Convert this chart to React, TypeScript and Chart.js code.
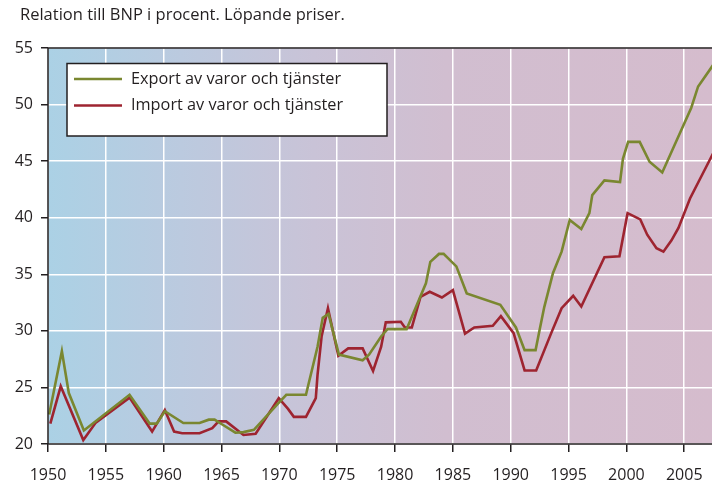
import React, { useEffect, useRef } from "react";
import { Chart, registerables } from "chart.js";

Chart.register(...registerables);

const titleText = "Relation till BNP i procent. Löpande priser.";
const seriesNames = ["Export av varor och tjänster", "Import av varor och tjänster"];
const seriesColors = ["#7a8730", "#9e2430"];

const xTickMin = 1950;
const xTickMax = 2007.4;
const yTickMin = 20;
const yTickMax = 55;
const tickStep = 5;

const exportYears = [
  1950.1, 1951.2, 1951.8, 1953.1, 1957.05, 1958.8, 1959.4, 1960.1, 1961.7, 1963.1,
  1963.9, 1964.4, 1965.1, 1966.2, 1966.9, 1967.8, 1970.0, 1970.6, 1972.3, 1973.3,
  1973.75, 1974.25, 1975.15, 1977.2, 1977.75, 1978.8, 1979.35, 1981.0, 1982.67, 1983.05,
  1983.8, 1984.2, 1985.3, 1986.2, 1989.1, 1990.45, 1991.2, 1992.15, 1992.5, 1992.9,
  1993.65, 1994.4, 1995.1, 1996.1, 1996.8, 1997.05, 1998.1, 1999.45, 1999.7, 2000.15,
  2001.15, 2002.0, 2003.1, 2005.6, 2006.2, 2007.5,
];
const exportValues = [
  22.6, 28.2, 24.5, 21.2, 24.35, 21.8, 21.8, 22.9, 21.85, 21.85,
  22.15, 22.15, 21.7, 21.0, 21.05, 21.25, 23.7, 24.35, 24.35, 28.6,
  31.15, 31.5, 27.9, 27.4, 27.9, 29.5, 30.15, 30.15, 34.2, 36.1,
  36.8, 36.8, 35.7, 33.3, 32.3, 30.3, 28.3, 28.3, 30.1, 32.1,
  35.1, 37.0, 39.8, 39.0, 40.4, 42.0, 43.3, 43.15, 45.2, 46.7,
  46.7, 44.95, 44.0, 49.7, 51.6, 53.5,
];

const importYears = [
  1950.2, 1951.1, 1953.05, 1954.1, 1957.05, 1959.0, 1960.1, 1960.9, 1961.6, 1963.1,
  1964.2, 1964.75, 1965.4, 1966.9, 1967.95, 1969.95, 1970.75, 1971.25, 1972.3, 1973.15,
  1973.3, 1973.65, 1974.2, 1975.1, 1975.95, 1977.2, 1978.1, 1978.8, 1979.2, 1980.5,
  1980.85, 1981.45, 1982.2, 1983.0, 1984.05, 1985.0, 1986.05, 1986.85, 1988.45, 1989.15,
  1990.25, 1991.2, 1992.2, 1993.5, 1994.4, 1995.4, 1996.1, 1998.1, 1999.4, 2000.1,
  2001.2, 2001.8, 2002.6, 2003.2, 2003.9, 2004.5, 2005.5, 2007.5,
];
const importValues = [
  21.8, 25.1, 20.35, 21.85, 24.1, 21.1, 23.0, 21.1, 20.95, 20.95,
  21.4, 22.0, 22.0, 20.8, 20.9, 24.05, 23.1, 22.4, 22.4, 24.05,
  26.1, 29.5, 32.0, 27.8, 28.45, 28.45, 26.45, 28.6, 30.75, 30.8,
  30.3, 30.3, 33.0, 33.45, 32.95, 33.6, 29.75, 30.3, 30.45, 31.3,
  29.8, 26.5, 26.5, 29.8, 32.0, 33.1, 32.15, 36.5, 36.6, 40.4,
  39.85, 38.5, 37.3, 37.0, 38.0, 39.1, 41.7, 45.7,
];

const INK = "#231f20";
const FONT = "'Open Sans', 'Noto Sans', sans-serif";

const toPoints = (xs: number[], ys: number[]) => xs.map((x, i) => ({ x, y: ys[i] }));

const decorPlugin = {
  id: "decor",
  beforeDraw(chart: any) {
    const { ctx, chartArea } = chart;
    const { left, right, top, bottom } = chartArea;
    const g = ctx.createLinearGradient(left, 0, right, 0);
    g.addColorStop(0, "rgb(171,209,229)");
    g.addColorStop(0.2, "rgb(187,202,223)");
    g.addColorStop(0.4, "rgb(201,195,215)");
    g.addColorStop(0.6, "rgb(209,190,208)");
    g.addColorStop(1, "rgb(213,188,205)");
    ctx.save();
    ctx.fillStyle = g;
    ctx.fillRect(left, top, right - left, bottom - top);
    ctx.restore();
  },
  afterDraw(chart: any) {
    const { ctx, chartArea } = chart;
    const { left, right, top, bottom } = chartArea;
    ctx.save();
    ctx.strokeStyle = INK;
    ctx.lineWidth = 1.5;
    ctx.beginPath();
    ctx.moveTo(left, top);
    ctx.lineTo(right + 2, top);
    ctx.moveTo(left, top);
    ctx.lineTo(left, bottom);
    ctx.lineTo(right + 2, bottom);
    ctx.stroke();

    ctx.fillStyle = INK;
    ctx.font = `16.5px ${FONT}`;
    ctx.textBaseline = "middle";
    ctx.textAlign = "left";
    ctx.fillText(titleText, 20, 15);

    const bx = 67, by = 63.5, bw = 320, bh = 72.5;
    ctx.fillStyle = "#ffffff";
    ctx.fillRect(bx, by, bw, bh);
    ctx.strokeStyle = INK;
    ctx.lineWidth = 1.5;
    ctx.strokeRect(bx, by, bw, bh);
    const rows = [79, 105.5];
    rows.forEach((ry, i) => {
      ctx.strokeStyle = seriesColors[i];
      ctx.lineWidth = 2.5;
      ctx.beginPath();
      ctx.moveTo(74, ry);
      ctx.lineTo(122, ry);
      ctx.stroke();
      ctx.fillStyle = INK;
      ctx.font = `16.3px ${FONT}`;
      ctx.textBaseline = "middle";
      ctx.fillText(seriesNames[i], 131, ry);
    });
    ctx.restore();
  },
};

export default function App() {
  const ref = useRef<HTMLCanvasElement | null>(null);

  useEffect(() => {
    if (!ref.current) return;
    const chart = new Chart(ref.current, {
      type: "line",
      data: {
        datasets: [
          {
            label: seriesNames[0],
            data: toPoints(exportYears, exportValues),
            borderColor: seriesColors[0],
            borderWidth: 2.6,
            pointRadius: 0,
            tension: 0,
            fill: false,
          },
          {
            label: seriesNames[1],
            data: toPoints(importYears, importValues),
            borderColor: seriesColors[1],
            borderWidth: 2.6,
            pointRadius: 0,
            tension: 0,
            fill: false,
          },
        ],
      },
      options: {
        animation: false,
        responsive: true,
        maintainAspectRatio: false,
        layout: { padding: { top: 48, right: 0, left: 0, bottom: 0 } },
        plugins: {
          legend: { display: false },
          tooltip: { enabled: false },
          title: { display: false },
        },
        scales: {
          x: {
            type: "linear",
            min: xTickMin,
            max: xTickMax,
            afterFit: (s: any) => {
              s.height = 40;
              s.paddingRight = 0;
              s.paddingLeft = 0;
            },
            ticks: {
              stepSize: tickStep,
              includeBounds: false,
              color: INK,
              font: { family: FONT, size: 16 },
              padding: 14,
              maxRotation: 0,
              callback: (v: any) => String(v),
            },
            grid: {
              color: "#ffffff",
              lineWidth: 1.5,
              tickColor: INK,
              tickLength: 8,
            },
            border: { display: false },
          },
          y: {
            min: yTickMin,
            max: yTickMax,
            afterFit: (s: any) => {
              s.width = 48;
            },
            ticks: {
              stepSize: tickStep,
              color: INK,
              font: { family: FONT, size: 16 },
              padding: 8,
            },
            grid: {
              color: "#ffffff",
              lineWidth: 1.5,
              tickColor: INK,
              tickLength: 7,
            },
            border: { display: false },
          },
        },
      },
      plugins: [decorPlugin],
    });
    return () => chart.destroy();
  }, []);

  return (
    <div style={{ position: "absolute", left: 0, top: 0, width: 712, height: 484, background: "#fff" }}>
      <canvas ref={ref} />
    </div>
  );
}
